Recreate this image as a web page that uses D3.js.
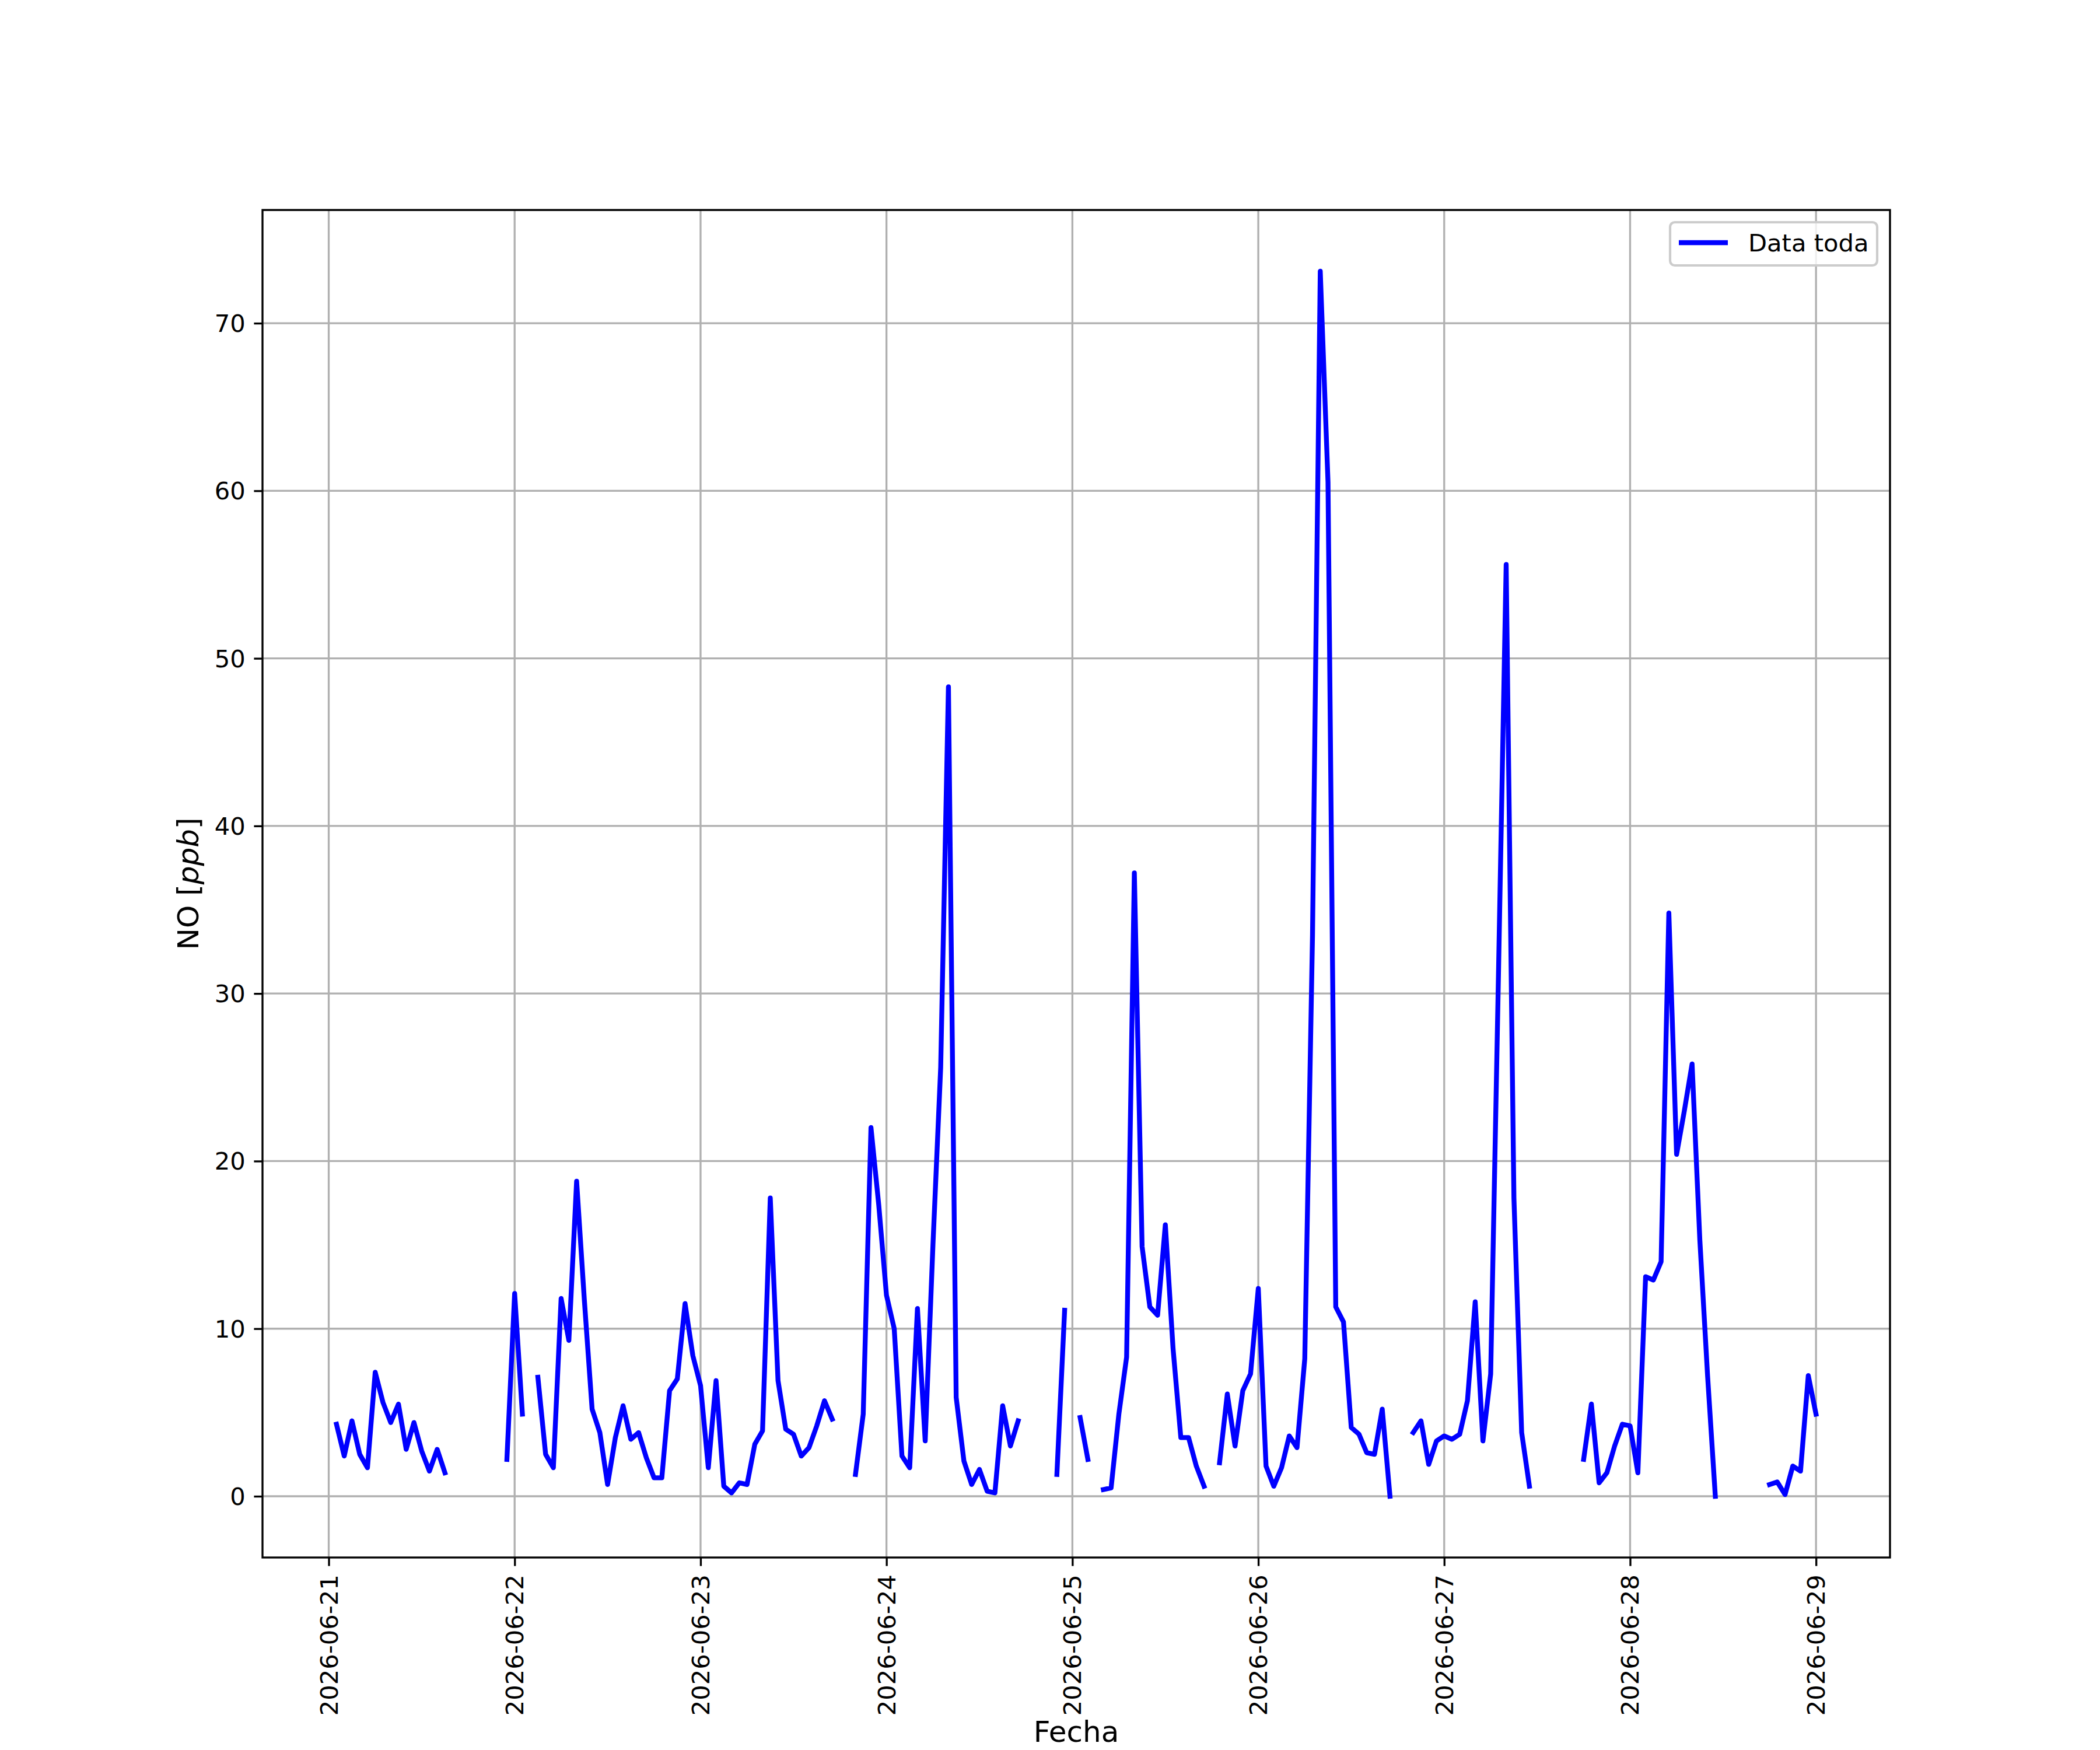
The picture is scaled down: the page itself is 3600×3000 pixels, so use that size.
<!DOCTYPE html>
<html>
<head>
<meta charset="utf-8">
<script src="https://cdn.jsdelivr.net/npm/d3@7"></script>
<style>
  html, body { margin: 0; padding: 0; background: #ffffff; }
  svg { display: block; }
  text { font-family: "DejaVu Sans", sans-serif; fill: #000; }
</style>
</head>
<body>
<svg id="chart" width="3600" height="3000"></svg>
<script>
// Hourly NO values [ppb], one array per day (hours 00..23); null = missing
const day_2026_06_21 = [null, 4.3, 2.4, 4.5, 2.5, 1.7, 7.4, 5.6, 4.4, 5.5, 2.8, 4.4, 2.7, 1.5, 2.8, 1.4, null, null, null, null, null, null, null, 2.2];
const day_2026_06_22 = [12.1, 4.9, null, 7.1, 2.5, 1.7, 11.8, 9.3, 18.8, 11.7, 5.2, 3.8, 0.7, 3.5, 5.4, 3.4, 3.8, 2.3, 1.1, 1.1, 6.3, 7.0, 11.5, 8.4];
const day_2026_06_23 = [6.6, 1.7, 6.9, 0.6, 0.2, 0.8, 0.7, 3.1, 3.9, 17.8, 6.9, 4.0, 3.7, 2.4, 2.9, 4.2, 5.7, 4.6, null, null, 1.3, 4.9, 22.0, 17.4];
const day_2026_06_24 = [12.0, 10.0, 2.4, 1.7, 11.2, 3.3, 15.0, 25.6, 48.3, 5.9, 2.1, 0.7, 1.6, 0.3, 0.2, 5.4, 3.0, 4.5, null, null, null, null, 1.3, 11.1];
const day_2026_06_25 = [null, 4.7, 2.2, null, 0.4, 0.5, 4.9, 8.3, 37.2, 14.9, 11.3, 10.8, 16.2, 8.8, 3.5, 3.5, 1.8, 0.6, null, 2.0, 6.1, 3.0, 6.3, 7.3];
const day_2026_06_26 = [12.4, 1.8, 0.6, 1.7, 3.6, 2.9, 8.2, 33.5, 73.1, 60.5, 11.3, 10.4, 4.1, 3.7, 2.6, 2.5, 5.2, 0.0, null, null, 3.8, 4.5, 1.9, 3.3];
const day_2026_06_27 = [3.6, 3.4, 3.7, 5.7, 11.6, 3.3, 7.3, 31.0, 55.6, 17.8, 3.8, 0.6, null, null, null, null, null, null, 2.2, 5.5, 0.8, 1.4, 3.0, 4.3];
const day_2026_06_28 = [4.2, 1.4, 13.1, 12.9, 14.0, 34.8, 20.4, 23.0, 25.8, 15.3, 7.2, 0.0, null, null, null, null, null, null, 0.7, 0.85, 0.1, 1.8, 1.5, 7.2];
const day_2026_06_29 = [4.9];

const dayStarts = ["2026-06-21", "2026-06-22", "2026-06-23", "2026-06-24", "2026-06-25", "2026-06-26", "2026-06-27", "2026-06-28", "2026-06-29"];
const dayValues = [day_2026_06_21, day_2026_06_22, day_2026_06_23, day_2026_06_24, day_2026_06_25, day_2026_06_26, day_2026_06_27, day_2026_06_28, day_2026_06_29];
const yTicks = [0, 10, 20, 30, 40, 50, 60, 70];
const xTickLabels = dayStarts;
const seriesName = "Data toda";
const xLabel = "Fecha";

(function () {
  // Build the time series
  const parseDay = d3.utcParse("%Y-%m-%d");
  const data = [];
  dayStarts.forEach((ds, i) => {
    const base = parseDay(ds);
    dayValues[i].forEach((v, h) => {
      data.push({ t: d3.utcHour.offset(base, h), v: v });
    });
  });

  const svg = d3.select("#chart");
  const W = 3600, H = 3000;
  const pL = 450, pR = 3240, pT = 360, pB = 2670;
  const FS = 41.67;          // 10pt @ 300dpi
  const FSL = 50;            // 12pt @ 300dpi (axis labels)
  const LW08 = 3.33;         // 0.8pt
  const tickLen = 14.58, tickPad = 14.58;

  svg.append("rect").attr("width", W).attr("height", H).attr("fill", "#ffffff");

  // Domains with matplotlib-like 5% margins
  const valid = data.filter(d => d.v != null);
  const tExt = d3.extent(valid, d => +d.t);
  const tPad = (tExt[1] - tExt[0]) * 0.05;
  const vExt = d3.extent(valid, d => d.v);
  const vPad = (vExt[1] - vExt[0]) * 0.05;

  const x = d3.scaleUtc().domain([new Date(tExt[0] - tPad), new Date(tExt[1] + tPad)]).range([pL, pR]);
  const y = d3.scaleLinear().domain([vExt[0] - vPad, vExt[1] + vPad]).range([pB, pT]);

  const xTicks = xTickLabels.map(s => parseDay(s));

  // Grid
  const grid = svg.append("g");
  grid.selectAll("line.gx").data(xTicks).enter().append("line")
    .attr("x1", d => x(d)).attr("x2", d => x(d))
    .attr("y1", pT).attr("y2", pB)
    .attr("stroke", "#b0b0b0").attr("stroke-width", LW08);
  grid.selectAll("line.gy").data(yTicks).enter().append("line")
    .attr("x1", pL).attr("x2", pR)
    .attr("y1", d => y(d)).attr("y2", d => y(d))
    .attr("stroke", "#b0b0b0").attr("stroke-width", LW08);

  // Data line
  const clip = svg.append("clipPath").attr("id", "plotclip");
  clip.append("rect").attr("x", pL).attr("y", pT).attr("width", pR - pL).attr("height", pB - pT);

  const line = d3.line()
    .defined(d => d.v != null)
    .x(d => x(d.t))
    .y(d => y(d.v));

  svg.append("path")
    .datum(data)
    .attr("clip-path", "url(#plotclip)")
    .attr("fill", "none")
    .attr("stroke", "#0000ff")
    .attr("stroke-width", 8.33)
    .attr("stroke-linejoin", "round")
    .attr("stroke-linecap", "square")
    .attr("d", line);

  // Axes via d3 axis generators
  const xAxis = d3.axisBottom(x).tickValues(xTicks).tickSize(tickLen).tickPadding(tickPad)
    .tickFormat(d3.utcFormat("%Y-%m-%d"));
  const gx = svg.append("g").attr("transform", `translate(0,${pB})`).call(xAxis);
  gx.select(".domain").remove();
  gx.selectAll(".tick line").attr("stroke", "#000").attr("stroke-width", LW08);
  gx.selectAll(".tick text")
    .attr("font-family", "DejaVu Sans")
    .attr("font-size", FS)
    .attr("fill", "#000")
    .attr("y", 0).attr("dy", null)
    .attr("text-anchor", "end")
    .attr("dominant-baseline", "central")
    .attr("transform", `translate(0,${tickLen + tickPad}) rotate(-90)`);

  const yAxis = d3.axisLeft(y).tickValues(yTicks).tickSize(tickLen).tickPadding(tickPad)
    .tickFormat(d3.format("d"));
  const gy = svg.append("g").attr("transform", `translate(${pL},0)`).call(yAxis);
  gy.select(".domain").remove();
  gy.selectAll(".tick line").attr("stroke", "#000").attr("stroke-width", LW08);
  gy.selectAll(".tick text")
    .attr("font-family", "DejaVu Sans")
    .attr("font-size", FS)
    .attr("fill", "#000")
    .attr("dy", null)
    .attr("dominant-baseline", "central");

  // Spines
  svg.append("rect")
    .attr("x", pL).attr("y", pT).attr("width", pR - pL).attr("height", pB - pT)
    .attr("fill", "none").attr("stroke", "#000").attr("stroke-width", LW08);

  // Axis labels
  svg.append("text")
    .attr("x", (pL + pR) / 2).attr("y", 2986)
    .attr("text-anchor", "middle")
    .attr("font-size", FSL)
    .text(xLabel);

  const ylab = svg.append("text")
    .attr("transform", `translate(340,${(pT + pB) / 2}) rotate(-90)`)
    .attr("text-anchor", "middle")
    .attr("font-size", FSL);
  ylab.append("tspan").text("NO [");
  ylab.append("tspan").attr("font-style", "italic").text("ppb");
  ylab.append("tspan").text("]");

  // Legend
  const lg = svg.append("g");
  lg.append("rect")
    .attr("x", 2863).attr("y", 381).attr("width", 355).attr("height", 74)
    .attr("rx", 8).attr("ry", 8)
    .attr("fill", "#ffffff").attr("fill-opacity", 0.8)
    .attr("stroke", "#cccccc").attr("stroke-width", 4.17);
  lg.append("line")
    .attr("x1", 2878).attr("x2", 2962).attr("y1", 416).attr("y2", 416)
    .attr("stroke", "#0000ff").attr("stroke-width", 8.33);
  lg.append("text")
    .attr("x", 2997).attr("y", 416)
    .attr("dominant-baseline", "central")
    .attr("font-size", FS)
    .text(seriesName);
})();
</script>
</body>
</html>
